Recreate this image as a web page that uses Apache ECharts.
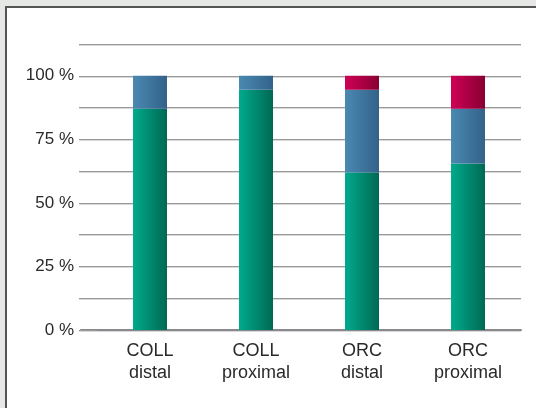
<!DOCTYPE html>
<html>
<head>
<meta charset="utf-8">
<script src="https://cdn.jsdelivr.net/npm/echarts@6/dist/echarts.min.js"></script>
<style>
  html, body { margin: 0; padding: 0; background: #e6e8e6; }
  #wrap { position: relative; width: 536px; height: 408px; overflow: hidden; }
  #panel { position: absolute; left: 5px; top: 6px; width: 600px; height: 500px; background: #fff; border-left: 2px solid #555; border-top: 2px solid #555; box-sizing: border-box; }
  #chart { position: absolute; left: 0; top: 0; width: 536px; height: 408px; }
</style>
</head>
<body>
<div id="wrap">
  <div id="panel"></div>
  <div id="chart"></div>
</div>
<script>
const categories = ['COLL\ndistal', 'COLL\nproximal', 'ORC\ndistal', 'ORC\nproximal'];
const greenValues = [87, 94.5, 62, 65.5];
const blueValues = [13, 5.5, 32.5, 21.5];
const redValues = [0, 0, 5.5, 13];
const yTickLabels = ['0 %', '25 %', '50 %', '75 %', '100 %'];

const FONT = "'Liberation Sans Narrow', 'Liberation Sans', sans-serif";

function grad(c1, c2) {
  return new echarts.graphic.LinearGradient(0, 0, 1, 0, [
    { offset: 0, color: c1 }, { offset: 1, color: c2 }
  ]);
}

const lineStyleGrid = { color: '#999', width: 1, shadowColor: '#d8d8d8', shadowOffsetY: 1 };

const chart = echarts.init(document.getElementById('chart'), null, { renderer: 'canvas' });
chart.setOption({
  backgroundColor: 'transparent',
  animation: false,
  grid: [
    { left: 97, right: 15, top: 44, bottom: 78 },
    { left: 81, right: 15, top: 44, bottom: 78 }
  ],
  xAxis: [
    {
      type: 'category',
      gridIndex: 0,
      data: categories,
      axisLine: { show: false },
      axisTick: { show: false },
      axisLabel: { color: '#2a2a2a', fontFamily: FONT, fontSize: 18, lineHeight: 22, margin: 10 }
    },
    {
      type: 'value',
      gridIndex: 1,
      min: 0,
      max: 1,
      axisLine: { show: true, onZero: false, lineStyle: { color: '#8a8a8e', width: 2 } },
      axisTick: { show: false },
      axisLabel: { show: false },
      splitLine: { show: false }
    }
  ],
  yAxis: [
    {
      type: 'value',
      gridIndex: 0,
      min: 0,
      max: 112.5,
      interval: 12.5,
      axisLine: { show: false },
      axisTick: { show: true, inside: false, length: 18, lineStyle: lineStyleGrid },
      splitLine: { show: true, lineStyle: lineStyleGrid },
      axisLabel: {
        color: '#2a2a2a', fontFamily: FONT, fontSize: 17, margin: 23,
        formatter: function (v) {
          if (Math.abs(v % 25) < 1e-6) { return yTickLabels[Math.round(v / 25)] || ''; }
          return '';
        }
      }
    },
    {
      type: 'value',
      gridIndex: 1,
      min: 0,
      max: 1,
      show: false
    }
  ],
  series: [
    { type: 'bar', stack: 's', data: greenValues, barWidth: 34, itemStyle: { color: grad('#00aa8c', '#006954') } },
    { type: 'bar', stack: 's', data: blueValues, barWidth: 34, itemStyle: { color: grad('#4a89b1', '#33628a') } },
    { type: 'bar', stack: 's', data: redValues, barWidth: 34, itemStyle: { color: grad('#cf0056', '#880033') } }
  ]
});
</script>
</body>
</html>
